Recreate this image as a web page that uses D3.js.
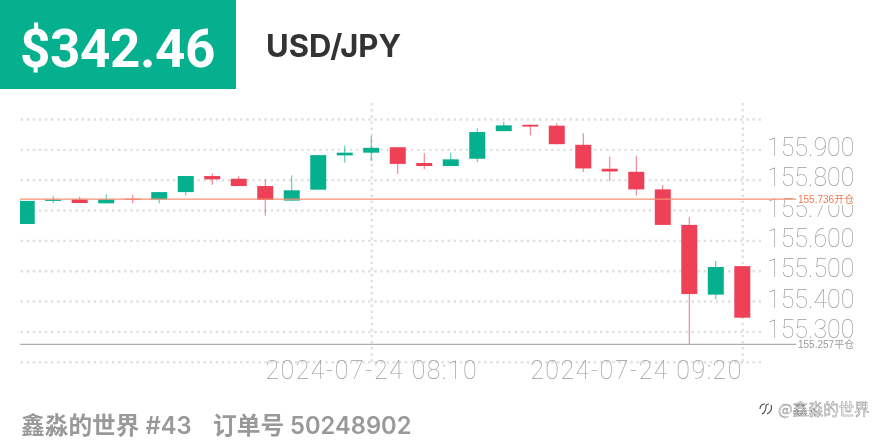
<!DOCTYPE html>
<html>
<head>
<meta charset="utf-8">
<script src="https://cdn.jsdelivr.net/npm/d3@7/dist/d3.min.js"></script>
<style>
  html, body { margin: 0; padding: 0; background: #fff; }
  svg { display: block; filter: blur(0.35px); }
  .grid path { display: none; }
  .grid line { stroke: #e0e0e0; stroke-width: 2.4; stroke-dasharray: 2.4 3.7; }
  .labels path, .labels line { display: none; }
  .labels text { font-family: Roboto, sans-serif; font-weight: 100; fill: #9c9c9c; }
</style>
</head>
<body>
<div id="chart"></div>
<script>
"use strict";

// 5 minute candles
const times = ["07:05", "07:10", "07:15", "07:20", "07:25", "07:30", "07:35", "07:40", "07:45", "07:50",
  "07:55", "08:00", "08:05", "08:10", "08:15", "08:20", "08:25", "08:30", "08:35", "08:40",
  "08:45", "08:50", "08:55", "09:00", "09:05", "09:10", "09:15", "09:20"];
const opens = [155.654, 155.730, 155.735, 155.722, 155.737, 155.735, 155.759, 155.812, 155.803, 155.779,
  155.731, 155.767, 155.880, 155.889, 155.907, 155.855, 155.845, 155.869, 155.960, 155.981,
  155.978, 155.915, 155.836, 155.826, 155.768, 155.651, 155.421, 155.515];
const highs = [155.730, 155.746, 155.744, 155.752, 155.749, 155.759, 155.812, 155.821, 155.812, 155.801,
  155.814, 155.881, 155.911, 155.944, 155.907, 155.887, 155.889, 155.969, 155.991, 155.981,
  155.986, 155.953, 155.876, 155.879, 155.783, 155.676, 155.532, 155.515];
const lows = [155.654, 155.722, 155.722, 155.722, 155.722, 155.722, 155.748, 155.783, 155.779, 155.681,
  155.731, 155.767, 155.856, 155.862, 155.819, 155.834, 155.845, 155.858, 155.960, 155.946,
  155.917, 155.825, 155.796, 155.748, 155.651, 155.257, 155.406, 155.345];
const closes = [155.730, 155.734, 155.723, 155.735, 155.734, 155.759, 155.812, 155.801, 155.779, 155.733,
  155.765, 155.881, 155.889, 155.905, 155.852, 155.845, 155.867, 155.957, 155.979, 155.975,
  155.917, 155.837, 155.827, 155.768, 155.651, 155.423, 155.512, 155.345];

const gridTicks = [155.2, 155.3, 155.4, 155.5, 155.6, 155.7, 155.8, 155.9, 156.0];
const priceTicks = [155.3, 155.4, 155.5, 155.6, 155.7, 155.8, 155.9];
const timeTicks = ["08:10", "09:20"];
const tradeDate = "2024-07-24";
const openPrice = 155.736;
const closePrice = 155.257;

const upColor = "#05b08f";
const downColor = "#ee4056";

let svg = d3.select("#chart").append("svg")
  .attr("width", 880)
  .attr("height", 440);

let x = d3.scalePoint().domain(times).range([26.7, 742.3]);
let y = d3.scaleLinear().domain([155.2, 156.0]).range([361.7, 119]);
let left = 20, right = 761;

// Header
svg.append("rect")
  .attr("width", 236)
  .attr("height", 89)
  .attr("fill", upColor);

svg.append("text")
  .attr("x", 20)
  .attr("y", 67)
  .text("$342.46")
  .attr("font-family", "Roboto, sans-serif")
  .attr("font-weight", 700)
  .attr("font-size", "53px")
  .attr("letter-spacing", "-0.4px")
  .attr("fill", "white");

svg.append("text")
  .attr("x", 266)
  .attr("y", 57)
  .text("USD/JPY")
  .attr("font-family", "Inter, sans-serif")
  .attr("font-weight", 700)
  .attr("font-size", "31px")
  .attr("fill", "#333");

// Dotted grid, both directions
svg.append("g")
  .attr("class", "grid")
  .attr("transform", "translate(" + right + ",0)")
  .call(d3.axisRight(y).tickValues(gridTicks).tickSize(left - right).tickFormat(""));

svg.append("g")
  .attr("class", "grid")
  .attr("transform", "translate(0," + y(155.2) + ")")
  .call(d3.axisBottom(x).tickValues(timeTicks).tickSize(100 - y(155.2)).tickFormat(""));

// Price labels
let priceAxis = svg.append("g")
  .attr("class", "labels")
  .attr("transform", "translate(" + (right + 6) + ",-2)")
  .call(d3.axisRight(y).tickValues(priceTicks).tickSize(0).tickPadding(0).tickFormat(d3.format(".3f")));
priceAxis.selectAll("text").style("font-size", "25px");

// Time labels, the last one is pulled in to end on its candle
let timeAxis = svg.append("g")
  .attr("class", "labels")
  .attr("transform", "translate(0,358)")
  .call(d3.axisBottom(x).tickValues(timeTicks).tickSize(0).tickPadding(3)
    .tickFormat(function(t) { return tradeDate + " " + t; }));
timeAxis.selectAll("text").style("font-size", "25px").style("letter-spacing", "1.45px");
timeAxis.selectAll("text").filter(function(t) { return t === "09:20"; })
  .attr("text-anchor", "end");

// Candles, the first one is cut off by the left edge of the plot
svg.append("clipPath")
  .attr("id", "plot")
  .append("rect")
  .attr("x", left)
  .attr("y", 90)
  .attr("width", 780)
  .attr("height", 300);

let candles = svg.append("g").attr("clip-path", "url(#plot)");
let bodyWidth = 16;

times.forEach(function(t, i) {
  let candleColor = closes[i] >= opens[i] ? upColor : downColor;

  candles.append("line")
    .attr("x1", x(t))
    .attr("x2", x(t))
    .attr("y1", y(highs[i]))
    .attr("y2", y(lows[i]))
    .attr("stroke", candleColor)
    .attr("stroke-opacity", 0.75)
    .attr("stroke-width", 1);

  candles.append("rect")
    .attr("x", x(t) - bodyWidth / 2)
    .attr("y", y(Math.max(opens[i], closes[i])))
    .attr("width", bodyWidth)
    .attr("height", Math.abs(opens[i] - closes[i]) * (y(155.2) - y(156.0)) / 0.8)
    .attr("fill", candleColor);
});

// Open and close price lines
function priceLine(price, name, lineColor, textColor) {
  svg.append("line")
    .attr("x1", left)
    .attr("x2", 796)
    .attr("y1", y(price))
    .attr("y2", y(price))
    .attr("stroke", lineColor)
    .attr("stroke-width", 1.2);

  svg.append("rect")
    .attr("x", 797)
    .attr("y", y(price) - 6)
    .attr("width", 60)
    .attr("height", 12)
    .attr("fill", "white");

  svg.append("text")
    .attr("x", 798)
    .attr("y", y(price) + 3.5)
    .text(d3.format(".3f")(price) + name)
    .attr("font-family", "'Liberation Sans', 'Noto Sans CJK SC', sans-serif")
    .attr("font-size", "10px")
    .attr("fill", textColor);
}

priceLine(openPrice, "开仓", "#f58f72", "#ee7b50");
priceLine(closePrice, "平仓", "#aeaeae", "#999");

// Footer
svg.append("text")
  .attr("x", 21)
  .attr("y", 434)
  .text("鑫淼的世界 #43")
  .attr("font-family", "Inter, 'Noto Sans CJK SC', sans-serif")
  .attr("font-weight", 600)
  .attr("font-size", "23.7px")
  .attr("fill", "#999");

svg.append("text")
  .attr("x", 213)
  .attr("y", 434)
  .text("订单号 50248902")
  .attr("font-family", "Inter, 'Noto Sans CJK SC', sans-serif")
  .attr("font-weight", 600)
  .attr("font-size", "23.7px")
  .attr("fill", "#999");

// Watermark
svg.append("path")
  .attr("d", "M762 414 Q766 412 766 406 Q766 404 769 404 M760 409 Q760 404 765 404 M771 405 Q773 411 767 414")
  .attr("fill", "none")
  .attr("stroke", "#444")
  .attr("stroke-width", 1.1);

svg.append("text")
  .attr("x", 778)
  .attr("y", 415)
  .text("@鑫淼的世界")
  .attr("font-family", "'Noto Sans CJK SC', sans-serif")
  .attr("font-size", "15.4px")
  .attr("fill", "white")
  .attr("stroke", "#777")
  .attr("stroke-width", 0.4);
</script>
</body>
</html>
